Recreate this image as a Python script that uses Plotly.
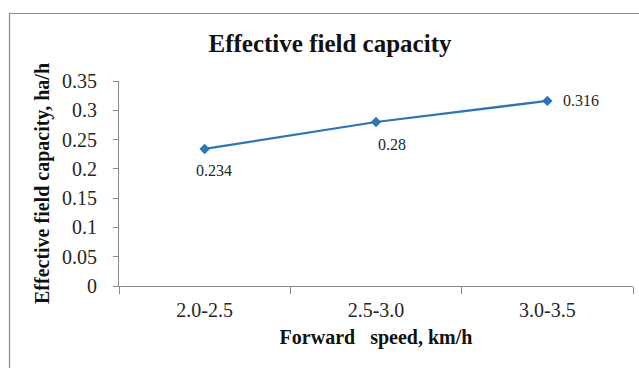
import plotly.graph_objects as go

categories = ["2.0-2.5", "2.5-3.0", "3.0-3.5"]
values = [0.234, 0.28, 0.316]
labels = ["0.234", "0.28", "0.316"]
ytick_vals = [0, 0.05, 0.1, 0.15, 0.2, 0.25, 0.3, 0.35]
ytick_text = ["0", "0.05", "0.1", "0.15", "0.2", "0.25", "0.3", "0.35"]

SERIF = "Liberation Serif"
BLUE = "#2E75B6"
AXIS = "#898989"

fig = go.Figure()
fig.add_trace(go.Scatter(
    x=categories, y=values, mode="lines+markers",
    line=dict(color=BLUE, width=2.25),
    marker=dict(symbol="diamond", size=8, color=BLUE),
    showlegend=False, hoverinfo="skip",
))

# data labels (below for first two, right for last)
shifts = [(9, -22), (16, -22), (0, 0)]
for i, (c, v, t) in enumerate(zip(categories, values, labels)):
    if i < 2:
        fig.add_annotation(x=c, y=v, text=t, showarrow=False,
                           xshift=shifts[i][0], yshift=shifts[i][1],
                           font=dict(family=SERIF, size=16, color="#262626"))
    else:
        fig.add_annotation(x=c, y=v, text=t, showarrow=False,
                           xanchor="left", xshift=14, yshift=0,
                           font=dict(family=SERIF, size=16, color="#262626"))

# outer chart border (cropped at right and bottom)
fig.add_shape(type="rect", xref="paper", yref="paper",
              x0=(9.5 - 119) / 514, x1=(650 - 119) / 514,
              y0=(286 - 380) / 205, y1=(286 - 13.5) / 205,
              line=dict(color="#8a8a8a", width=1.2), fillcolor="rgba(0,0,0,0)",
              layer="below")

fig.update_layout(
    width=639, height=368,
    margin=dict(l=119, r=6, t=81, b=82),
    paper_bgcolor="white", plot_bgcolor="white",
    title=dict(text="<b>Effective field capacity</b>", x=330 / 639, xanchor="center",
               y=1 - 43 / 368, yanchor="middle", yref="container",
               font=dict(family=SERIF, size=25, color="#111111")),
    xaxis=dict(
        type="category", range=[-0.5, 2.5], tickson="boundaries",
        showline=True, linecolor=AXIS, linewidth=1.2,
        ticks="outside", ticklen=7, tickcolor=AXIS, tickwidth=1.2,
        showgrid=False, zeroline=False, ticklabelstandoff=6,
        tickfont=dict(family=SERIF, size=20, color="#262626"),
        title=dict(text="<b>Forward   speed, km/h</b>", standoff=9,
                   font=dict(family=SERIF, size=20, color="#111111")),
    ),
    yaxis=dict(
        range=[0, 0.35], tickvals=ytick_vals, ticktext=ytick_text,
        showline=True, linecolor=AXIS, linewidth=1.2,
        ticks="outside", ticklen=5, tickcolor=AXIS, tickwidth=1.2,
        showgrid=False, zeroline=False, ticklabelstandoff=12,
        tickfont=dict(family=SERIF, size=20, color="#262626"),
        title=dict(text="<b>Effective field capacity, ha/h</b>", standoff=6,
                   font=dict(family=SERIF, size=20, color="#111111")),
    ),
)

fig.write_html("out.html")
